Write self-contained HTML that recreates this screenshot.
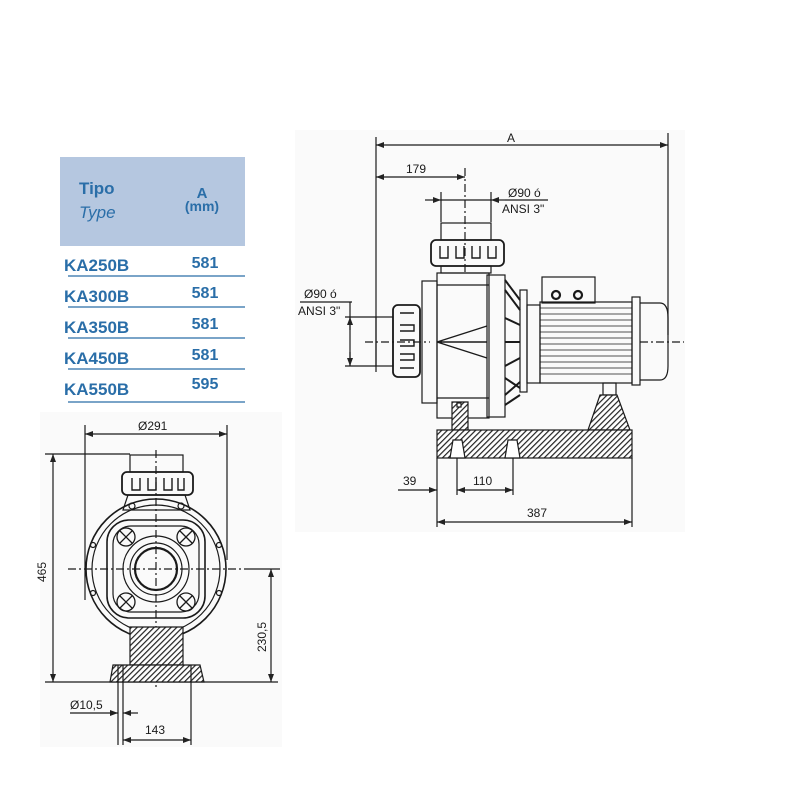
<!DOCTYPE html>
<html><head><meta charset="utf-8"><style>
html,body{margin:0;padding:0;background:#fff;width:800px;height:800px;overflow:hidden}
svg{display:block}
</style></head><body>
<svg width="800" height="800" viewBox="0 0 800 800" xmlns="http://www.w3.org/2000/svg" font-family="Liberation Sans, Arial, sans-serif">
<defs>
<pattern id="h" width="4" height="4" patternUnits="userSpaceOnUse" patternTransform="rotate(45)">
<rect width="4" height="4" fill="#fff"/><line x1="0" y1="0" x2="0" y2="4" stroke="#222" stroke-width="2.4"/></pattern>
<marker id="a" markerWidth="8" markerHeight="6" refX="8" refY="3" orient="auto-start-reverse" markerUnits="userSpaceOnUse"><path d="M0,0 L8,3 L0,6 z" fill="#222"/></marker>
</defs>
<rect x="295" y="130" width="390" height="402" fill="#fafafa"/>
<rect x="40" y="412" width="242" height="335" fill="#fafafa"/>
<!-- table -->
<rect x="60" y="157" width="185" height="89" fill="#b5c7e0"/>
<g fill="#2a6ea8" font-weight="bold">
<text x="79" y="194" font-size="17">Tipo</text>
<text x="79" y="218" font-size="17" font-weight="normal" font-style="italic">Type</text>
<text x="202" y="198" font-size="15" text-anchor="middle">A</text>
<text x="202" y="211" font-size="14" text-anchor="middle">(mm)</text>
<g font-size="17">
<text x="64" y="271">KA250B</text><text x="64" y="302">KA300B</text><text x="64" y="333">KA350B</text><text x="64" y="364">KA450B</text><text x="64" y="395">KA550B</text>
</g>
<g font-size="16" text-anchor="middle">
<text x="205" y="268">581</text><text x="205" y="298">581</text><text x="205" y="329">581</text><text x="205" y="360">581</text><text x="205" y="389">595</text>
</g></g>
<g stroke="#2a6ea8" stroke-width="1.2">
<line x1="68" y1="276" x2="245" y2="276"/><line x1="68" y1="307" x2="245" y2="307"/><line x1="68" y1="338" x2="245" y2="338"/><line x1="68" y1="369" x2="245" y2="369"/><line x1="68" y1="402" x2="245" y2="402"/>
</g>

<!-- RIGHT DRAWING -->
<g stroke="#1a1a1a" fill="none" stroke-width="1.2">
<line x1="376" y1="137" x2="376" y2="372"/><line x1="668" y1="133" x2="668" y2="335"/>
<line x1="376" y1="145" x2="668" y2="145" marker-start="url(#a)" marker-end="url(#a)"/>
<line x1="376" y1="177" x2="465" y2="177" marker-start="url(#a)" marker-end="url(#a)"/>
<line x1="465" y1="168" x2="465" y2="275" stroke-dasharray="8,3,2,3"/>
<line x1="441" y1="192" x2="441" y2="222"/><line x1="491" y1="192" x2="491" y2="222"/>
<line x1="425" y1="200" x2="441" y2="200" marker-end="url(#a)"/><line x1="441" y1="200" x2="491" y2="200"/><line x1="505" y1="200" x2="491" y2="200" marker-end="url(#a)"/><line x1="505" y1="200" x2="548" y2="200"/>
<line x1="300" y1="302" x2="352" y2="302"/>
<line x1="350" y1="302" x2="350" y2="366"/>
<line x1="345" y1="317" x2="376" y2="317"/><line x1="345" y1="366" x2="376" y2="366"/>
<line x1="350" y1="330" x2="350" y2="317" marker-end="url(#a)"/><line x1="350" y1="352" x2="350" y2="366" marker-end="url(#a)"/>
<line x1="365" y1="342" x2="430" y2="342" stroke-dasharray="8,3,2,3"/>
<line x1="640" y1="342" x2="684" y2="342" stroke-dasharray="8,3,2,3"/>
<rect x="441" y="223" width="50" height="17"/>
<rect x="431" y="240" width="73" height="26" rx="5" stroke-width="1.8"/>
<path d="M440,246 v12 h8 v-12 M456,246 v12 h8 v-12 M472,246 v12 h8 v-12 M488,246 v12 h8 v-12" stroke-width="1.4"/>
<rect x="441" y="266" width="50" height="7"/>
<rect x="422" y="281" width="15" height="122"/>
<rect x="437" y="273" width="52" height="145"/>
<line x1="437" y1="285" x2="489" y2="285"/><line x1="437" y1="398" x2="489" y2="398"/>
<rect x="487" y="275" width="18" height="142"/>
<path d="M437,342 L487,326 M437,342 L487,358 M437,342 H487" stroke-width="1.4"/>
<path d="M505,280 L520,300 M505,290 L520,310 M505,318 L520,325 M505,342 H520 M505,366 L520,358 M505,378 L520,388 M505,395 L520,382 M505,405 L520,395" stroke-width="2"/>
<rect x="520" y="290" width="7" height="102"/>
<rect x="527" y="305" width="13" height="78"/>
<rect x="376" y="317" width="17" height="49"/>
<rect x="393" y="305" width="27" height="72" rx="5" stroke-width="1.8"/>
<path d="M400,313 h14 M400,325 h14 v6 h-14 M400,340 h14 v6 h-14 M400,354 h14 v6 h-14 M400,368 h14" stroke-width="1.4"/>
<rect x="542" y="277" width="53" height="26"/>
<circle cx="556" cy="295" r="4" stroke-width="2.2"/><circle cx="578" cy="295" r="4" stroke-width="2.2"/>
<rect x="540" y="302" width="92" height="81"/>
<path d="M540,308 H632 M540,314 H632 M540,320 H632 M540,326 H632 M540,332 H632 M540,338 H632 M540,344 H632 M540,350 H632 M540,356 H632 M540,362 H632 M540,368 H632 M540,374 H632" stroke-width="0.8"/>
<rect x="632" y="297" width="8" height="88"/>
<path d="M640,303 H660 Q668,303 668,318 V366 Q668,380 660,380 H640" />
<rect x="603" y="383" width="13" height="12"/>
<path d="M452,402 H468 V430 H452 Z" fill="url(#h)"/>
<path d="M600,395 H617 L630,430 H588 Z" fill="url(#h)"/>
<rect x="437" y="430" width="195" height="28" fill="url(#h)"/>
<path d="M450,458 L453,440 H462 L465,458 Z M505,458 L508,440 H517 L520,458 Z" fill="#fff"/>
<rect x="457" y="403" width="4" height="4" fill="#fff"/>
<line x1="437" y1="458" x2="437" y2="527"/><line x1="632" y1="458" x2="632" y2="527"/>
<line x1="457" y1="458" x2="457" y2="495"/><line x1="513" y1="458" x2="513" y2="495"/>
<line x1="398" y1="490" x2="437" y2="490" marker-end="url(#a)"/>
<line x1="457" y1="490" x2="513" y2="490" marker-start="url(#a)" marker-end="url(#a)"/>
<line x1="437" y1="522" x2="632" y2="522" marker-start="url(#a)" marker-end="url(#a)"/>
</g>
<g font-size="12" fill="#1a1a1a">
<text x="507" y="142">A</text>
<text x="406" y="173">179</text>
<text x="508" y="197">Ø90 ó</text><text x="502" y="213">ANSI 3"</text>
<text x="304" y="298">Ø90 ó</text><text x="298" y="315">ANSI 3"</text>
<text x="403" y="485">39</text><text x="473" y="485">110</text><text x="527" y="517">387</text>
</g>

<!-- LEFT DRAWING -->
<g stroke="#1a1a1a" fill="none" stroke-width="1.2">
<line x1="85" y1="425" x2="85" y2="600"/><line x1="227" y1="425" x2="227" y2="560"/>
<line x1="85" y1="434" x2="227" y2="434" marker-start="url(#a)" marker-end="url(#a)"/>
<line x1="45" y1="454" x2="130" y2="454"/><line x1="45" y1="682" x2="278" y2="682"/>
<line x1="53" y1="454" x2="53" y2="682" marker-start="url(#a)" marker-end="url(#a)"/>
<line x1="245" y1="569" x2="280" y2="569"/>
<line x1="271" y1="569" x2="271" y2="682" marker-start="url(#a)" marker-end="url(#a)"/>
<line x1="68" y1="569" x2="245" y2="569" stroke-dasharray="8,3,2,3"/>
<line x1="156" y1="450" x2="156" y2="690" stroke-dasharray="8,3,2,3"/>
<rect x="130" y="455" width="53" height="17"/>
<rect x="122" y="472" width="71" height="23" rx="5" stroke-width="1.8"/>
<path d="M132,478 v12 h8 v-12 M148,478 v12 h8 v-12 M164,478 v12 h8 v-12 M178,478 v12 h6 v-12" stroke-width="1.4"/>
<path d="M128,495 L123,510 H190 L185,495 Z"/>
<circle cx="132" cy="506" r="3"/><circle cx="181" cy="506" r="3"/>
<circle cx="156" cy="569" r="70" stroke-width="1.6"/>
<circle cx="156" cy="569" r="64"/>
<rect x="107" y="520" width="98" height="98" rx="22" stroke-width="1.6"/>
<rect x="113" y="526" width="86" height="86" rx="18"/>
<circle cx="156" cy="569" r="33"/><circle cx="156" cy="569" r="26"/><circle cx="156" cy="569" r="21" stroke-width="2.2"/>
<g stroke-width="1.3">
<circle cx="126" cy="537" r="9"/><circle cx="186" cy="537" r="9"/><circle cx="126" cy="602" r="9"/><circle cx="186" cy="602" r="9"/>
<path d="M120,531 l12,12 M132,531 l-12,12 M180,531 l12,12 M192,531 l-12,12 M120,596 l12,12 M132,596 l-12,12 M180,596 l12,12 M192,596 l-12,12"/>
</g>
<circle cx="93" cy="545" r="2.5"/><circle cx="219" cy="545" r="2.5"/><circle cx="93" cy="593" r="2.5"/><circle cx="219" cy="593" r="2.5"/>
<path d="M130,627 H183 V665 H130 Z" fill="url(#h)"/>
<path d="M113,665 H200 L204,682 H110 Z" fill="url(#h)"/>
<line x1="118" y1="665" x2="118" y2="745"/><line x1="123" y1="665" x2="123" y2="745"/><line x1="191" y1="665" x2="191" y2="745"/>
<line x1="70" y1="713" x2="118" y2="713" marker-end="url(#a)"/><line x1="138" y1="713" x2="123" y2="713" marker-end="url(#a)"/>
<line x1="123" y1="740" x2="191" y2="740" marker-start="url(#a)" marker-end="url(#a)"/>
</g>
<g font-size="12" fill="#1a1a1a">
<text x="138" y="430">Ø291</text>
<text x="70" y="709">Ø10,5</text>
<text x="145" y="734">143</text>
<text transform="translate(46,582) rotate(-90)">465</text>
<text transform="translate(266,652) rotate(-90)">230,5</text>
</g>
</svg>
</body></html>
